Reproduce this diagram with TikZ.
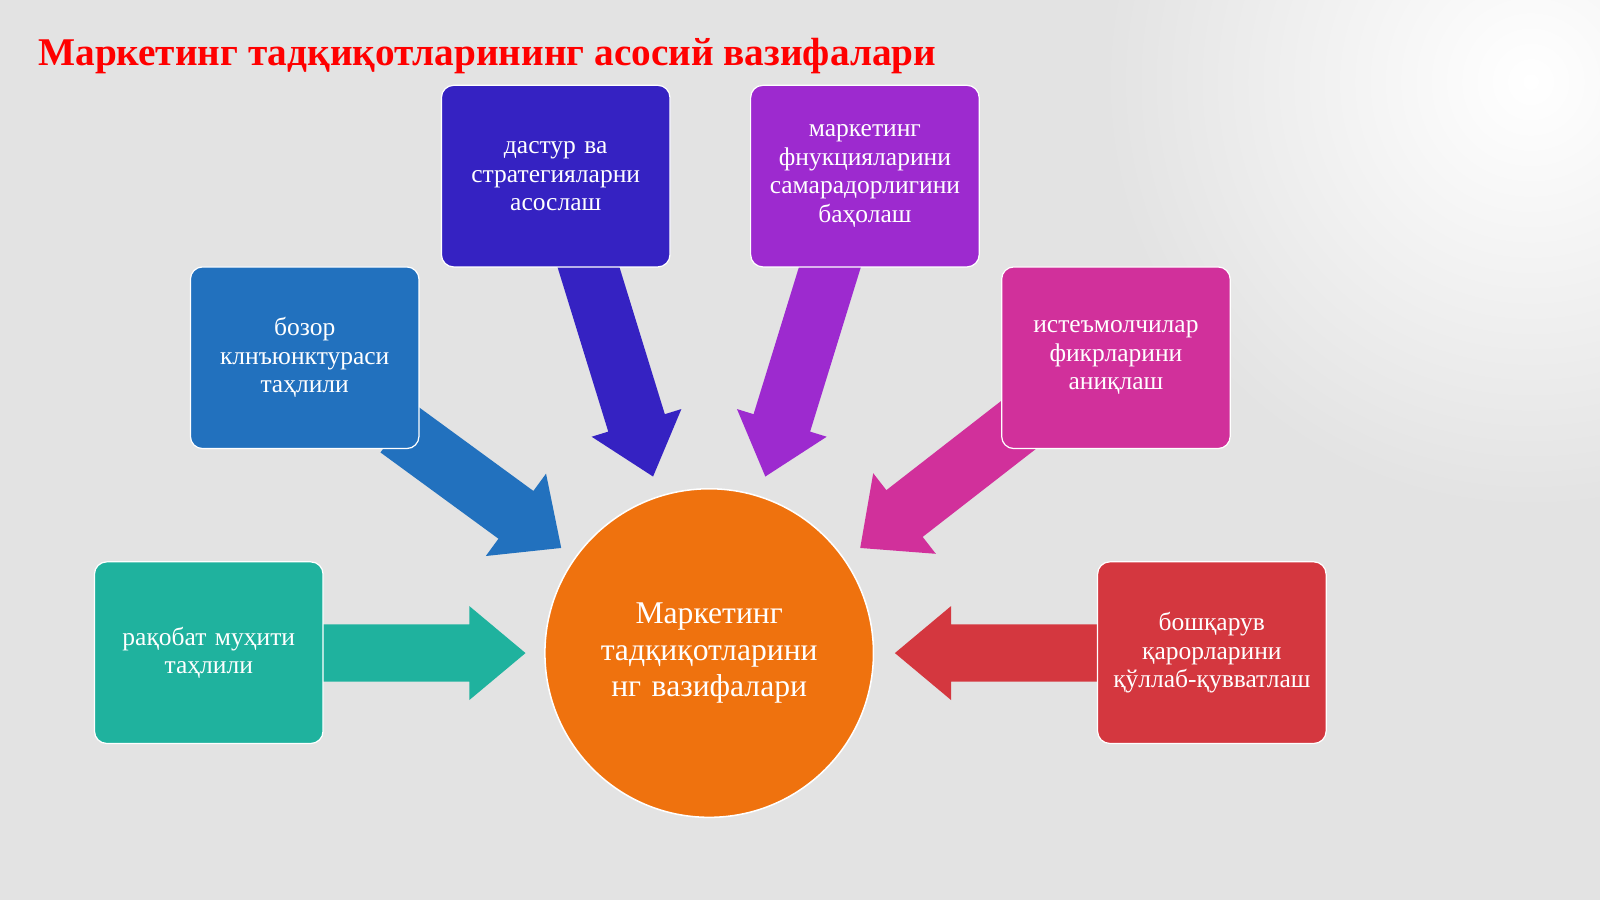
\documentclass[tikz,border=0pt]{standalone}
\usepackage{fontspec}
\setmainfont{Liberation Serif}
\usetikzlibrary{calc,shadings}
\definecolor{cDas}{HTML}{3522C2}
\definecolor{cMar}{HTML}{9D2ACF}
\definecolor{cBoz}{HTML}{2271BE}
\definecolor{cIst}{HTML}{D1309B}
\definecolor{cRaq}{HTML}{1FB29E}
\definecolor{cBos}{HTML}{D4373F}
\definecolor{cOr}{HTML}{EF720E}
\newcommand\blockarrow[5]{% tail, tip, color, shafthalf, headhalf
  \fill[#3] ($(#1)!#4!90:(#2)$)
   -- ($($(#2)!55pt!(#1)$)!#4!-90:(#1)$) -- ($($(#2)!55pt!(#1)$)!#5!-90:(#1)$)
   -- (#2) -- ($($(#2)!55pt!(#1)$)!#5!90:(#1)$) -- ($($(#2)!55pt!(#1)$)!#4!90:(#1)$)
   -- ($(#1)!#4!-90:(#2)$) -- cycle;}
\begin{document}
\begin{tikzpicture}[x=1pt,y=-1pt,
  box/.style={draw=white,line width=1.2pt,rounded corners=12pt,minimum width=224pt,minimum height=178pt,text width=215pt,align=center,text=white,font=\fontsize{25}{28}\selectfont,anchor=north west}]
\useasboundingbox (0,0) rectangle (1568,882);
\fill[gray!22] (0,0) rectangle (1568,882);
\begin{scope}
\clip (0,0) rectangle (1568,882);
\shade[inner color=white,outer color=gray!22] (1500,80) circle (420);
\end{scope}
\node[anchor=west,text=red,font=\bfseries\fontsize{38.5}{44}\selectfont] (t) at (34,55) {Маркетинг тадқиқотларининг асосий вазифалари};
\coordinate (a1) at (390,420); \coordinate (b1) at (550,537);
\coordinate (a2) at (570,240); \coordinate (b2) at (640,467);
\coordinate (a3) at (820,240); \coordinate (b3) at (750,467);
\coordinate (a4) at (1000,415); \coordinate (b4) at (843,537);
\coordinate (a5) at (310,640); \coordinate (b5) at (515,640);
\coordinate (a6) at (1085,640); \coordinate (b6) at (877,640);
\blockarrow{a1}{b1}{cBoz}{29pt}{50pt}
\blockarrow{a2}{b2}{cDas}{29pt}{46pt}
\blockarrow{a3}{b3}{cMar}{29pt}{46pt}
\blockarrow{a4}{b4}{cIst}{29pt}{50pt}
\blockarrow{a5}{b5}{cRaq}{28pt}{46pt}
\blockarrow{a6}{b6}{cBos}{28pt}{46pt}
\node[box,fill=cDas] (das) at (432,83) {дастур ва стратегияларни асослаш};
\node[box,fill=cMar] (mar) at (735,83) {маркетинг фнукцияларини самарадорлигини баҳолаш};
\node[box,fill=cBoz] (boz) at (186,261) {бозор клнъюнктураси таҳлили};
\node[box,fill=cIst] (ist) at (981,261) {истеъмолчилар фикрларини аниқлаш};
\node[box,fill=cRaq] (raq) at (92,550) {рақобат муҳити таҳлили};
\node[box,fill=cBos] (bos) at (1075,550) {бошқарув қарорларини қўллаб-қувватлаш};
\node[circle,draw=white,line width=1.5pt,fill=cOr,minimum size=322pt,text width=240pt,align=center,text=white,font=\fontsize{31}{36}\selectfont] (c) at (695,640) {Маркетинг тадқиқотларини нг вазифалари};
\end{tikzpicture}
\end{document}
